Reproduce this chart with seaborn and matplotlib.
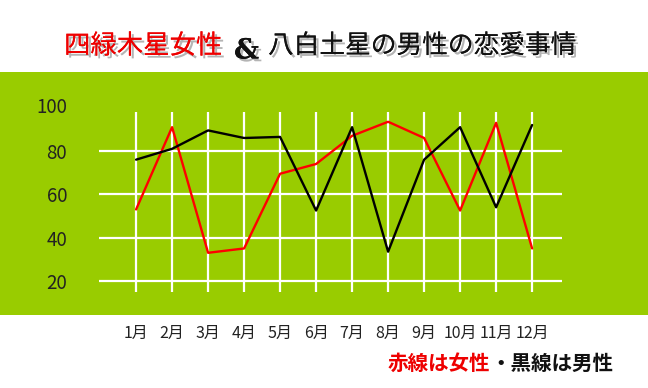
import matplotlib
matplotlib.use("Agg")
import matplotlib.pyplot as plt
import matplotlib.patheffects as pe
import matplotlib.transforms as mtrans
from matplotlib.patches import Rectangle
import seaborn as sns
import pandas as pd

months = ["1月", "2月", "3月", "4月", "5月", "6月", "7月", "8月", "9月", "10月", "11月", "12月"]
women = [53, 91, 33, 35, 69.5, 74, 87, 93.5, 86, 52.5, 93, 35]
men = [76, 81, 89.5, 86, 86.5, 52.5, 91, 33.5, 76, 91, 54, 92]
y_ticks = [20, 40, 60, 80]
y_top_label = 100

sns.set_style("white")
plt.rcParams['font.family'] = ['Noto Sans CJK JP', 'DejaVu Sans']

W, H = 648, 388
fig = plt.figure(figsize=(W / 100, H / 100), dpi=100)
fig.patch.set_facecolor("white")

# green band
fig.add_artist(Rectangle((0, 1 - 315 / H), 1, (315 - 72) / H, transform=fig.transFigure,
                         facecolor="#99cc00", edgecolor="none", zorder=0))

ax = fig.add_axes([99 / W, 1 - 292 / H, (562 - 99) / W, (292 - 112) / H])
ax.set_facecolor("none")

pos = list(range(len(months)))
df = pd.DataFrame({
    "x": pos * 2,
    "value": women + men,
    "series": ["女性"] * len(months) + ["男性"] * len(months),
})
sns.lineplot(data=df, x="x", y="value", hue="series", palette={"女性": "#ff0000", "男性": "#000000"},
             linewidth=1.7, legend=False, ax=ax, zorder=3)

ax.set_xlim(-1.03, 11.83)
ax.set_ylim(14.9, 98)
ax.set_xticks(pos)
ax.set_xticklabels(months, fontsize=11.5, color="#222222")
for lbl in ax.get_xticklabels():
    lbl.set_transform(lbl.get_transform() + mtrans.ScaledTranslation(-2 / 100, 0, fig.dpi_scale_trans))
ax.set_yticks(y_ticks)
ax.set_yticklabels([str(v) for v in y_ticks], fontsize=13.5, color="#222222")
ax.tick_params(axis="y", length=0, pad=23)
ax.tick_params(axis="x", length=0, pad=24)
ax.grid(True, color="white", linewidth=1.6)
ax.set_axisbelow(True)
for s in ax.spines.values():
    s.set_visible(False)
ax.set_xlabel("")
ax.set_ylabel("")
ax.text(0, y_top_label, str(y_top_label),
        transform=ax.get_yaxis_transform() + mtrans.ScaledTranslation(-23 / 72, 0, fig.dpi_scale_trans),
        ha="right", va="center", fontsize=13.5, color="#222222", clip_on=False)

# title
shadow = [pe.withSimplePatchShadow(offset=(2, -2), shadow_rgbFace="#777777", alpha=0.55), pe.Normal()]
fig.text(64 / W, 1 - 46 / H, "四緑木星女性", ha="left", va="center", fontsize=19, color="#ee0000",
         path_effects=shadow)
fig.text(234 / W, 1 - 51 / H, "&", ha="left", va="center", fontsize=20, color="#111111",
         family="DejaVu Serif", fontweight="bold", path_effects=shadow)
fig.text(268 / W, 1 - 46 / H, "八白土星の男性の恋愛事情", ha="left", va="center", fontsize=18.5,
         color="#111111", path_effects=shadow)

# legend text
fig.text(490 / W, 1 - 363 / H, "赤線は女性", ha="right", va="center", fontsize=14.8, color="#ee0000",
         fontweight="bold")
fig.text(490 / W, 1 - 363 / H, "・黒線は男性", ha="left", va="center", fontsize=14.8, color="#111111",
         fontweight="bold")

fig.savefig("out.png", dpi=100)
